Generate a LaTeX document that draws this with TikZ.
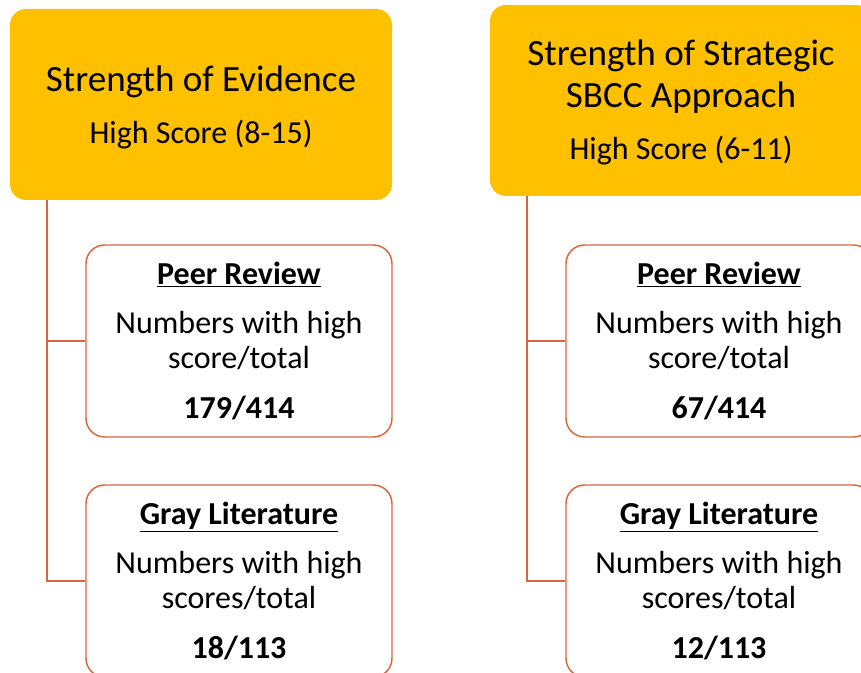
\documentclass[tikz,border=0pt]{standalone}
\usepackage{fontspec}
\setmainfont{Carlito}
\usepackage{tikz}
\usepackage{xcolor}

\definecolor{gold}{RGB}{255,192,0}
\definecolor{rust}{RGB}{218,102,60}

\tikzset{
    header/.style={rectangle,rounded corners=12pt,fill=gold,inner sep=0pt,
        minimum width=286.5pt,minimum height=143.25pt},
    headtext/.style={inner sep=0pt,align=center,font=\fontsize{27.8}{31.5}\selectfont},
    child/.style={rectangle,rounded corners=14pt,draw=rust,line width=1.1pt,fill=white,
        inner sep=0pt,minimum width=229.5pt,minimum height=144pt,align=center,
        font=\fontsize{24}{26.25}\selectfont},
    link/.style={draw=rust,line width=1.1pt}
}

\begin{document}
\begin{tikzpicture}[x=0.75pt,y=-0.75pt]
    \useasboundingbox (0,0) rectangle (861,673);
    \clip (0,0) rectangle (861,673);

    % left column
    \node[header] (evid) at (201,104.5) {};
    \node[headtext] (evidTxt) at ([yshift=-1.8pt]evid.center) {Strength of Evidence\\[7.5pt]
        {\fontsize{24}{26.25}\selectfont High Score (8-15)}};
    \node[child] (peerA) at (239,341) {\textbf{\underline{Peer Review}}\\[10.5pt]
        Numbers with high\\ score/total\\[11pt] \textbf{179/414}};
    \node[child] (grayA) at (239,581) {\textbf{\underline{Gray Literature}}\\[10.5pt]
        Numbers with high\\ scores/total\\[11pt] \textbf{18/113}};
    \coordinate (spineA) at (47,200);
    \draw[link] (spineA) |- (peerA.west);
    \draw[link] (spineA) |- (grayA.west);

    % right column
    \node[header] (sbcc) at (681,100.5) {};
    \node[headtext] (sbccTxt) at ([yshift=-1.5pt]sbcc.center) {Strength of Strategic\\ SBCC Approach\\[8pt]
        {\fontsize{24}{26.25}\selectfont High Score (6-11)}};
    \node[child] (peerB) at (719,341) {\textbf{\underline{Peer Review}}\\[10.5pt]
        Numbers with high\\ score/total\\[11pt] \textbf{67/414}};
    \node[child] (grayB) at (719,581) {\textbf{\underline{Gray Literature}}\\[10.5pt]
        Numbers with high\\ scores/total\\[11pt] \textbf{12/113}};
    \coordinate (spineB) at (527,196);
    \draw[link] (spineB) |- (peerB.west);
    \draw[link] (spineB) |- (grayB.west);

\end{tikzpicture}
\end{document}
